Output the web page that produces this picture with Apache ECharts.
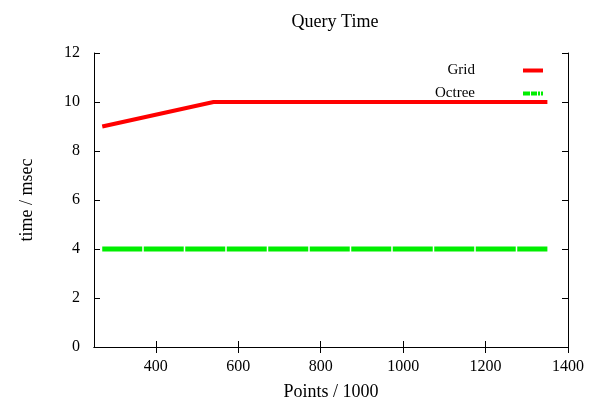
<!DOCTYPE html>
<html><head><meta charset="utf-8">
<script src="https://cdn.jsdelivr.net/npm/echarts@6/dist/echarts.min.js"></script>
<style>html,body{margin:0;padding:0;background:#fff}#c{width:594px;height:407px}</style>
</head><body><div id="c"></div>
<script>
const points = [270, 540, 810, 1080, 1350];
const gridTimes = [9, 10, 10, 10, 10];
const octreeTimes = [4, 4, 4, 4, 4];
const xTicks = [400, 600, 800, 1000, 1200, 1400];
const yTicks = [0, 2, 4, 6, 8, 10, 12];

const font = '"Liberation Serif", "DejaVu Serif", serif';
const chart = echarts.init(document.getElementById('c'), null, {renderer: 'canvas'});
const axisLine = {show: true, lineStyle: {color: '#000', width: 1}};
chart.setOption({
  animation: false,
  backgroundColor: '#fff',
  title: {text: 'Query Time', left: 330, top: 8, textAlign: 'center',
    textStyle: {fontFamily: font, fontSize: 18, fontWeight: 'normal', color: '#000'}},
  legend: {
    right: 46, top: 58, orient: 'vertical', align: 'right', itemGap: 8,
    itemWidth: 20, itemHeight: 4,
    textStyle: {fontFamily: font, fontSize: 15, color: '#000', padding: [0, 43, 0, 0]},
    data: [
      {name: 'Grid', icon: 'rect', itemStyle: {color: '#ff0000'}},
      {name: 'Octree', icon: 'path://M0,0H7V4H0Z M8,0H14V4H8Z M15,0H17V4H15Z M18,0H20V4H18Z', itemStyle: {color: '#00ee00'}}
    ]
  },
  grid: {left: 94, right: 26, top: 53, bottom: 60},
  xAxis: [{
    type: 'value', min: 250, max: 1400,
    name: 'Points / 1000', nameLocation: 'middle', nameGap: 36,
    nameTextStyle: {fontFamily: font, fontSize: 18, color: '#000'},
    axisLine: axisLine,
    axisTick: {show: true, inside: true, length: 6, customValues: xTicks, lineStyle: {color: '#000'}},
    axisLabel: {customValues: xTicks, formatter: v => String(v), fontFamily: font, fontSize: 16, color: '#000', margin: 12},
    splitLine: {show: false}
  }, {
    type: 'value', min: 250, max: 1400, position: 'top',
    axisLine: axisLine,
    axisTick: {show: true, inside: true, length: 6, customValues: xTicks, lineStyle: {color: '#000'}},
    axisLabel: {show: false}, splitLine: {show: false}
  }],
  yAxis: [{
    type: 'value', min: 0, max: 12, interval: 2,
    name: 'time / msec', nameLocation: 'middle', nameGap: 58, nameRotate: 90,
    nameTextStyle: {fontFamily: font, fontSize: 18, color: '#000'},
    axisLine: axisLine,
    axisTick: {show: true, inside: true, length: 6, lineStyle: {color: '#000'}},
    axisLabel: {fontFamily: font, fontSize: 16, color: '#000', margin: 14},
    splitLine: {show: false}
  }, {
    type: 'value', min: 0, max: 12, interval: 2, position: 'right',
    axisLine: axisLine,
    axisTick: {show: true, inside: true, length: 6, lineStyle: {color: '#000'}},
    axisLabel: {show: false}, splitLine: {show: false}
  }],
  series: [{
    name: 'Grid', type: 'line', symbol: 'none',
    data: points.map((p, i) => [p, gridTimes[i]]),
    lineStyle: {color: '#ff0000', width: 4},
    itemStyle: {color: '#ff0000'}
  }, {
    name: 'Octree', type: 'line', symbol: 'none',
    data: points.map((p, i) => [p, octreeTimes[i]]),
    lineStyle: {color: '#00ee00', width: 5, type: [40, 1.5]},
    itemStyle: {color: '#00ee00'}
  }]
});
</script></body></html>
